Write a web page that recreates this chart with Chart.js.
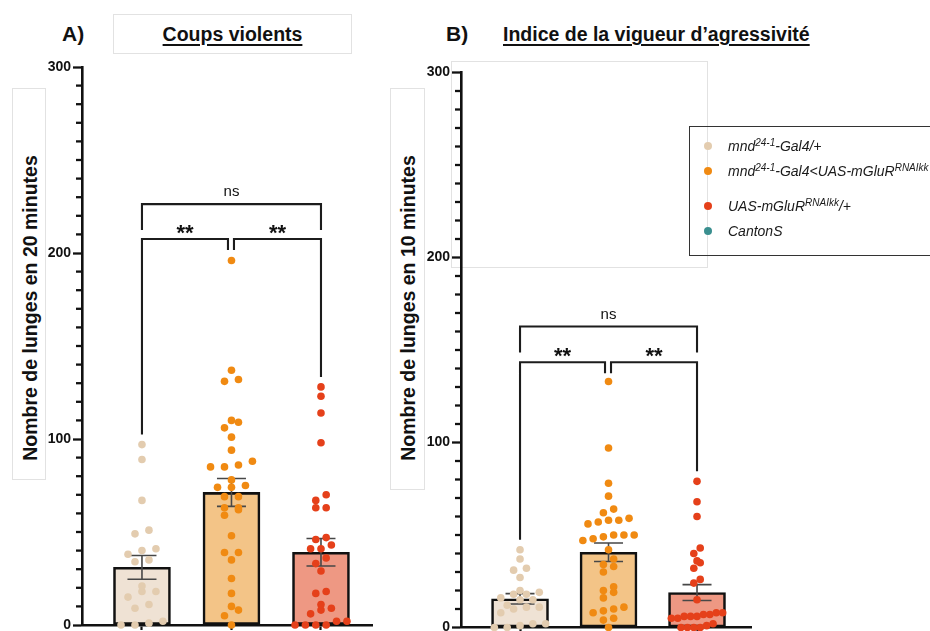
<!DOCTYPE html>
<html><head><meta charset="utf-8">
<script src="https://cdn.jsdelivr.net/npm/chart.js@4.4.0/dist/chart.umd.min.js"></script>
<style>
html,body{margin:0;padding:0;background:#fff;width:930px;height:631px;overflow:hidden;font-family:"Liberation Sans",Arial,sans-serif;color:#111;}
.abs{position:absolute;}
.frame{position:absolute;border:1px solid #e2e2e2;box-sizing:border-box;}
.ttl{position:absolute;font-weight:bold;font-size:19.5px;white-space:nowrap;text-decoration:underline;text-decoration-thickness:2px;text-underline-offset:3px;}
.lab{position:absolute;font-weight:bold;font-size:21px;}
.ylab{position:absolute;font-weight:bold;font-size:19.5px;white-space:nowrap;transform:translate(-50%,-50%) rotate(-90deg);}
#legend{position:absolute;left:689px;top:126px;width:260px;height:130px;border:1.5px solid #333;box-sizing:border-box;}
.li{position:absolute;left:38px;font-style:italic;font-size:14px;white-space:nowrap;color:#1a1a1a;transform:translateY(-50%);}
.li sup{font-size:10px;vertical-align:5px;line-height:0;}
.ld{position:absolute;left:14px;width:8px;height:8px;border-radius:50%;transform:translateY(-50%);}
</style></head>
<body>
<div class="frame" style="left:113px;top:14px;width:239px;height:40px"></div>
<div class="frame" style="left:12px;top:88px;width:34px;height:392px"></div>
<div class="frame" style="left:390px;top:88px;width:35px;height:402px"></div>
<div class="frame" style="left:451px;top:61px;width:257px;height:207px"></div>

<div class="lab" style="left:62px;top:22px">A)</div>
<div class="ttl" style="left:113px;width:239px;text-align:center;top:23px">Coups violents</div>
<div class="lab" style="left:446px;top:22px">B)</div>
<div class="ttl" style="left:503px;top:23px">Indice de la vigueur d’agressivité</div>

<div class="ylab" style="left:30px;top:308px">Nombre de lunges en 20 minutes</div>
<div class="ylab" style="left:408px;top:308px">Nombre de lunges en 10 minutes</div>

<canvas id="cA" class="abs" style="left:0;top:0" width="420" height="640"></canvas>
<canvas id="cB" class="abs" style="left:380px;top:0" width="400" height="640"></canvas>

<div id="legend"></div>

<script>
// ---------- data ----------
const categories = ["mnd24-1-Gal4/+", "mnd24-1-Gal4<UAS-mGluR RNAIkk", "UAS-mGluR RNAIkk/+"];
const legendNames = ["mnd<sup>24-1</sup>-Gal4/+", "mnd<sup>24-1</sup>-Gal4&lt;UAS-mGluR<sup>RNAIkk</sup>", "UAS-mGluR<sup>RNAIkk</sup>/+", "CantonS"];
const yTickLabels = [0, 100, 200, 300];
const comparisons = [[0, 1], [1, 2], [0, 2]];
const sigLabels = ["**", "**", "ns"];

// Panel A : Coups violents (lunges / 20 min)
const A_g1 = [97, 89, 67, 51, 49, 41, 40, 38, 35, 34, 21, 18, 18, 15, 11, 9, 2, 1, 0, 0];
const A_g2 = [196, 137, 132, 131, 110, 109, 106, 101, 94, 88, 86, 85, 85, 78, 75, 74, 74, 69, 69, 63, 63, 62, 59, 48, 39, 39, 35, 25, 17, 10, 8, 5, 0];
const A_g3 = [128, 123, 114, 98, 70, 67, 63, 63, 47, 46, 43, 41, 41, 36, 33, 29, 18, 17, 11, 9, 8, 6, 2, 2, 0, 0, 0, 0];
const A_mean = [31.0, 71.3, 39.1];
const A_sem = [6.4, 7.5, 7.4];

// Panel B : Indice de la vigueur d'agressivité (lunges / 10 min)
const B_g1 = [42, 37, 32, 31, 27, 20, 19, 18, 18, 16, 15, 15, 12, 11, 11, 10, 8, 2, 2, 1, 0, 0];
const B_g2 = [133, 97, 78, 71, 64, 62, 59, 58, 58, 57, 56, 50, 50, 50, 49, 48, 47, 42, 37, 34, 33, 30, 22, 20, 19, 16, 11, 10, 9, 8, 5, 4, 0];
const B_g3 = [79, 68, 60, 43, 40, 36, 35, 32, 26, 24, 15, 8, 8, 7, 7, 6, 6, 6, 5, 5, 2, 1, 0, 0, 0, 0];
const B_mean = [15.5, 40.7, 18.9];
const B_sem = [2.8, 5.0, 4.3];

// ---------- styles ----------
const dotColors = ["#E3CCAF", "#F08A12", "#E5401A", "#3A8F8F"];
const barFills = ["#EFE2D4", "#F3C487", "#EE9883"];

// legend (HTML, for superscripts)
const legendY = [19, 44, 79, 104];
const lg = document.getElementById('legend');
legendNames.forEach((n, i) => {
  lg.insertAdjacentHTML('beforeend',
    `<div class="ld" style="top:${legendY[i]}px;background:${dotColors[i]}"></div><div class="li" style="top:${legendY[i]}px">${n}</div>`);
});

// Prism-like scatter arrangement (rows binned by value)
function swarm(values, gi) {
  const binH = 3.8, maxSp = 0.156, maxW = 0.58;
  const sorted = values.slice().sort((a, b) => a - b);
  const rows = []; let cur = null;
  for (const v of sorted) {
    if (!cur || v - cur[0] > binH) { cur = [v]; rows.push(cur); } else cur.push(v);
  }
  const maxN = Math.max(...rows.map(r => r.length));
  const sp = maxN > 1 ? Math.min(maxSp, maxW / (maxN - 1)) : maxSp;
  const pts = [];
  rows.forEach(r => r.forEach((v, i) => pts.push({ x: gi + (i - (r.length - 1) / 2) * sp, y: v })));
  return pts;
}

const annot = {
  id: 'annot',
  afterDatasetDraw(chart, args, o) {
    if (args.index !== 0) return;
    const ctx = chart.ctx, xs = chart.scales.x, ys = chart.scales.y;
    ctx.save(); ctx.strokeStyle = '#474747'; ctx.lineWidth = 1.6;
    o.means.forEach((m, i) => {
      const x = xs.getPixelForValue(i);
      const yt = ys.getPixelForValue(m + o.sems[i]), yb = ys.getPixelForValue(m - o.sems[i]);
      ctx.beginPath();
      ctx.moveTo(x, yt); ctx.lineTo(x, yb);
      ctx.moveTo(x - 14.5, yt); ctx.lineTo(x + 14.5, yt);
      ctx.moveTo(x - 14.5, yb); ctx.lineTo(x + 14.5, yb);
      ctx.stroke();
    });
    ctx.restore();
  },
  afterDraw(chart, args, o) {
    const ctx = chart.ctx, xs = chart.scales.x, ys = chart.scales.y;
    const left = chart.chartArea.left;
    // minor y ticks
    ctx.save(); ctx.strokeStyle = '#111'; ctx.lineWidth = 2.3;
    ys.ticks.forEach(t => {
      if (yTickLabels.includes(t.value)) return;
      const y = ys.getPixelForValue(t.value);
      ctx.beginPath(); ctx.moveTo(left - 6, y); ctx.lineTo(left, y); ctx.stroke();
    });
    ctx.restore();
    // significance brackets
    const px = i => xs.getPixelForValue(i), py = v => ys.getPixelForValue(v);
    const maxes = o.groups.map(g => Math.max(...g));
    ctx.save(); ctx.strokeStyle = '#1c1c1c'; ctx.lineWidth = 2.1; ctx.lineCap = 'butt'; ctx.lineJoin = 'miter';
    ctx.fillStyle = '#111'; ctx.textAlign = 'center'; ctx.textBaseline = 'alphabetic';
    const line = pts => { ctx.beginPath(); pts.forEach((p, k) => k ? ctx.lineTo(p[0], p[1]) : ctx.moveTo(p[0], p[1])); ctx.stroke(); };
    comparisons.forEach((c, k) => {
      const [a, b] = c; const lab = sigLabels[k];
      if (b - a === 2) {
        const y = py(o.wideLevel);
        line([[px(a), y + 26], [px(a), y], [px(b), y], [px(b), y + 26]]);
        ctx.font = '15px "Liberation Sans", Arial, sans-serif';
        ctx.fillText(lab, (px(a) + px(b)) / 2, y - 8);
      } else {
        const y = py(o.pairLevel);
        const x1 = a === 0 ? px(a) : px(a) + 2.5;
        const x2 = b === 2 ? px(b) : px(b) - 3.5;
        const y1 = a === 0 ? py(maxes[a]) - 10 : y + 11;
        const y2 = b === 2 ? py(maxes[b]) - 10 : y + 11;
        line([[x1, y1], [x1, y], [x2, y], [x2, y2]]);
        ctx.font = 'bold 22px "Liberation Sans", Arial, sans-serif';
        ctx.fillText(lab, (x1 + x2) / 2, y + 1);
      }
    });
    ctx.restore();
  }
};

function makeChart(id, groups, means, sems, cfg) {
  const datasets = [{
    type: 'bar', order: 3,
    data: means.map((m, i) => ({ x: i, y: m })),
    backgroundColor: barFills, borderColor: '#111', borderWidth: 2.6, borderSkipped: false,
    barThickness: 57
  }];
  groups.forEach((g, i) => datasets.push({
    type: 'scatter', order: 1, clip: false,
    data: swarm(g, i), pointRadius: 3.8, pointBorderWidth: 0,
    pointBackgroundColor: dotColors[i], backgroundColor: dotColors[i]
  }));
  return new Chart(document.getElementById(id), {
    type: 'bar',
    data: { datasets },
    plugins: [annot],
    options: {
      responsive: false, animation: false, events: [],
      layout: { padding: { left: 0, right: cfg.padRight, top: cfg.padTop, bottom: 0 } },
      plugins: {
        legend: { display: false }, tooltip: { enabled: false },
        annot: { means, sems, groups, wideLevel: cfg.wideLevel, pairLevel: cfg.pairLevel }
      },
      scales: {
        x: {
          type: 'linear', min: cfg.xmin, max: cfg.xmax, offset: false,
          afterBuildTicks: s => { s.ticks = categories.map((c, i) => ({ value: i })); },
          afterFit: s => { s.height = cfg.xH; },
          ticks: { display: false },
          grid: { offset: false, drawOnChartArea: false, drawTicks: true, tickLength: 5, tickWidth: 2.2, tickColor: '#111' },
          border: { display: true, color: '#111', width: 2.6 }
        },
        y: {
          type: 'linear', min: 0, max: 300,
          afterFit: s => { s.width = cfg.yW; },
          ticks: {
            stepSize: 10, autoSkip: false, padding: 2, color: '#111',
            font: { family: '"Liberation Sans", Arial, sans-serif', weight: 'bold', size: 14 },
            callback: v => yTickLabels.includes(v) ? String(v) : ''
          },
          grid: {
            drawOnChartArea: false, tickLength: 9, tickWidth: 2.3,
            tickColor: c => (c.tick && yTickLabels.includes(c.tick.value)) ? '#111' : 'rgba(0,0,0,0)'
          },
          border: { display: true, color: '#111', width: 2.6 }
        }
      }
    }
  });
}

makeChart('cA', [A_g1, A_g2, A_g3], A_mean, A_sem,
  { padRight: 48, padTop: 67, xH: 15, yW: 82, xmin: -0.67, xmax: 2.57, wideLevel: 226.3, pairLevel: 207.5 });
makeChart('cB', [B_g1, B_g2, B_g3], B_mean, B_sem,
  { padRight: 29, padTop: 72.5, xH: 12.5, yW: 81, xmin: -0.667, xmax: 2.61, wideLevel: 162.7, pairLevel: 143.4 });
</script>
</body></html>
